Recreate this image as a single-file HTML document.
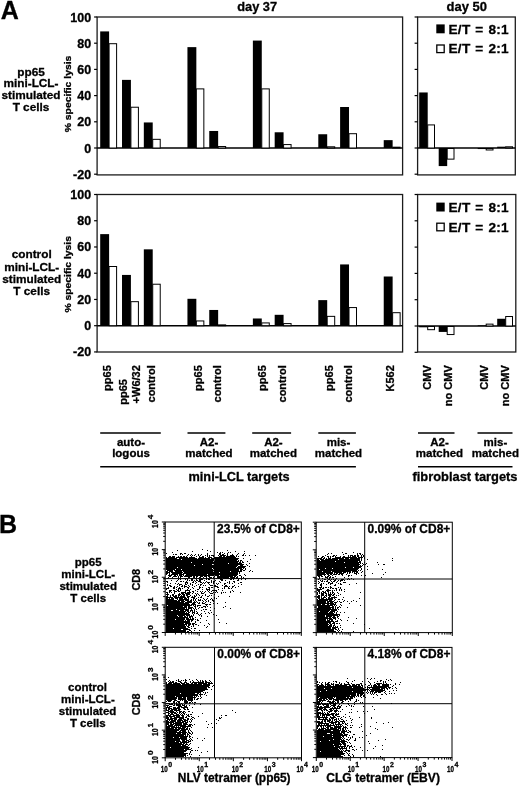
<!DOCTYPE html>
<html><head><meta charset="utf-8"><title>Figure</title>
<style>
html,body{margin:0;padding:0;background:#fff;}
svg{display:block;}
svg text{font-family:"Liberation Sans",sans-serif;font-weight:bold;fill:#000;stroke:#000;stroke-width:0.3px;}
</style></head><body>
<svg width="520" height="787" viewBox="0 0 520 787">
<rect width="520" height="787" fill="#fff"/>
<text x="0.80" y="18.80" font-size="25">A</text>
<text x="237.30" y="11.00" font-size="12.5" textLength="39.8" lengthAdjust="spacingAndGlyphs">day 37</text>
<text x="446.60" y="11.00" font-size="12.5" textLength="40.4" lengthAdjust="spacingAndGlyphs">day 50</text>
<rect x="97.10" y="17.00" width="305.50" height="157.90" fill="none" stroke="#1c1c1c" stroke-width="1.3"/>
<line x1="97.10" y1="148.00" x2="402.60" y2="148.00" stroke="#000" stroke-width="1.4"/>
<line x1="94.10" y1="17.00" x2="97.10" y2="17.00" stroke="#000" stroke-width="1.2"/>
<text x="91.10" y="21.50" font-size="12.5" text-anchor="end">100</text>
<line x1="94.10" y1="43.20" x2="97.10" y2="43.20" stroke="#000" stroke-width="1.2"/>
<text x="91.10" y="47.70" font-size="12.5" text-anchor="end">80</text>
<line x1="94.10" y1="69.40" x2="97.10" y2="69.40" stroke="#000" stroke-width="1.2"/>
<text x="91.10" y="73.90" font-size="12.5" text-anchor="end">60</text>
<line x1="94.10" y1="95.60" x2="97.10" y2="95.60" stroke="#000" stroke-width="1.2"/>
<text x="91.10" y="100.10" font-size="12.5" text-anchor="end">40</text>
<line x1="94.10" y1="121.80" x2="97.10" y2="121.80" stroke="#000" stroke-width="1.2"/>
<text x="91.10" y="126.30" font-size="12.5" text-anchor="end">20</text>
<line x1="94.10" y1="148.00" x2="97.10" y2="148.00" stroke="#000" stroke-width="1.2"/>
<text x="91.10" y="152.50" font-size="12.5" text-anchor="end">0</text>
<line x1="94.10" y1="174.20" x2="97.10" y2="174.20" stroke="#000" stroke-width="1.2"/>
<text x="91.10" y="178.70" font-size="12.5" text-anchor="end">-20</text>
<rect x="100.20" y="31.41" width="8.90" height="116.59" fill="#000"/>
<rect x="109.10" y="43.70" width="7.50" height="104.30" fill="#fff" stroke="#000" stroke-width="1"/>
<rect x="122.01" y="79.88" width="8.90" height="68.12" fill="#000"/>
<rect x="130.91" y="107.23" width="7.50" height="40.77" fill="#fff" stroke="#000" stroke-width="1"/>
<rect x="143.82" y="122.45" width="8.90" height="25.55" fill="#000"/>
<rect x="152.72" y="139.33" width="7.50" height="8.67" fill="#fff" stroke="#000" stroke-width="1"/>
<rect x="187.44" y="47.13" width="8.90" height="100.87" fill="#000"/>
<rect x="196.34" y="88.89" width="7.50" height="59.11" fill="#fff" stroke="#000" stroke-width="1"/>
<rect x="209.25" y="130.97" width="8.90" height="17.03" fill="#000"/>
<rect x="218.15" y="146.53" width="7.50" height="1.47" fill="#fff" stroke="#000" stroke-width="1"/>
<rect x="252.87" y="40.58" width="8.90" height="107.42" fill="#000"/>
<rect x="261.77" y="88.89" width="7.50" height="59.11" fill="#fff" stroke="#000" stroke-width="1"/>
<rect x="274.68" y="132.28" width="8.90" height="15.72" fill="#000"/>
<rect x="283.58" y="144.57" width="7.50" height="3.43" fill="#fff" stroke="#000" stroke-width="1"/>
<rect x="318.30" y="134.25" width="8.90" height="13.75" fill="#000"/>
<rect x="327.20" y="146.80" width="7.50" height="1.20" fill="#fff" stroke="#000" stroke-width="1"/>
<rect x="340.11" y="107.00" width="8.90" height="41.00" fill="#000"/>
<rect x="349.01" y="133.70" width="7.50" height="14.30" fill="#fff" stroke="#000" stroke-width="1"/>
<rect x="383.73" y="140.14" width="8.90" height="7.86" fill="#000"/>
<rect x="392.63" y="147.19" width="7.50" height="0.81" fill="#fff" stroke="#000" stroke-width="1"/>
<rect x="417.60" y="17.00" width="97.70" height="157.90" fill="none" stroke="#1c1c1c" stroke-width="1.3"/>
<line x1="417.60" y1="148.00" x2="515.30" y2="148.00" stroke="#000" stroke-width="1.4"/>
<line x1="414.60" y1="17.00" x2="417.60" y2="17.00" stroke="#000" stroke-width="1.2"/>
<line x1="414.60" y1="43.20" x2="417.60" y2="43.20" stroke="#000" stroke-width="1.2"/>
<line x1="414.60" y1="69.40" x2="417.60" y2="69.40" stroke="#000" stroke-width="1.2"/>
<line x1="414.60" y1="95.60" x2="417.60" y2="95.60" stroke="#000" stroke-width="1.2"/>
<line x1="414.60" y1="121.80" x2="417.60" y2="121.80" stroke="#000" stroke-width="1.2"/>
<line x1="414.60" y1="148.00" x2="417.60" y2="148.00" stroke="#000" stroke-width="1.2"/>
<line x1="414.60" y1="174.20" x2="417.60" y2="174.20" stroke="#000" stroke-width="1.2"/>
<rect x="419.20" y="92.46" width="8.50" height="55.54" fill="#000"/>
<rect x="427.70" y="124.92" width="6.80" height="23.08" fill="#fff" stroke="#000" stroke-width="1"/>
<rect x="438.70" y="148.00" width="8.50" height="18.08" fill="#000"/>
<rect x="447.20" y="148.50" width="6.80" height="10.63" fill="#fff" stroke="#000" stroke-width="1"/>
<rect x="477.70" y="148.00" width="8.50" height="1.05" fill="#000"/>
<rect x="486.20" y="148.50" width="6.80" height="1.47" fill="#fff" stroke="#000" stroke-width="1"/>
<rect x="497.20" y="146.69" width="8.50" height="1.31" fill="#000"/>
<rect x="505.70" y="146.80" width="6.80" height="1.20" fill="#fff" stroke="#000" stroke-width="1"/>
<rect x="97.10" y="194.50" width="305.50" height="157.50" fill="none" stroke="#1c1c1c" stroke-width="1.3"/>
<line x1="97.10" y1="325.70" x2="402.60" y2="325.70" stroke="#000" stroke-width="1.4"/>
<line x1="94.10" y1="194.50" x2="97.10" y2="194.50" stroke="#000" stroke-width="1.2"/>
<text x="91.10" y="199.00" font-size="12.5" text-anchor="end">100</text>
<line x1="94.10" y1="220.74" x2="97.10" y2="220.74" stroke="#000" stroke-width="1.2"/>
<text x="91.10" y="225.24" font-size="12.5" text-anchor="end">80</text>
<line x1="94.10" y1="246.98" x2="97.10" y2="246.98" stroke="#000" stroke-width="1.2"/>
<text x="91.10" y="251.48" font-size="12.5" text-anchor="end">60</text>
<line x1="94.10" y1="273.22" x2="97.10" y2="273.22" stroke="#000" stroke-width="1.2"/>
<text x="91.10" y="277.72" font-size="12.5" text-anchor="end">40</text>
<line x1="94.10" y1="299.46" x2="97.10" y2="299.46" stroke="#000" stroke-width="1.2"/>
<text x="91.10" y="303.96" font-size="12.5" text-anchor="end">20</text>
<line x1="94.10" y1="325.70" x2="97.10" y2="325.70" stroke="#000" stroke-width="1.2"/>
<text x="91.10" y="330.20" font-size="12.5" text-anchor="end">0</text>
<line x1="94.10" y1="351.94" x2="97.10" y2="351.94" stroke="#000" stroke-width="1.2"/>
<text x="91.10" y="356.44" font-size="12.5" text-anchor="end">-20</text>
<rect x="100.20" y="234.12" width="8.90" height="91.58" fill="#000"/>
<rect x="109.10" y="266.50" width="7.50" height="59.20" fill="#fff" stroke="#000" stroke-width="1"/>
<rect x="122.01" y="274.93" width="8.90" height="50.77" fill="#000"/>
<rect x="130.91" y="301.67" width="7.50" height="24.03" fill="#fff" stroke="#000" stroke-width="1"/>
<rect x="143.82" y="249.34" width="8.90" height="76.36" fill="#000"/>
<rect x="152.72" y="284.22" width="7.50" height="41.48" fill="#fff" stroke="#000" stroke-width="1"/>
<rect x="187.44" y="298.80" width="8.90" height="26.90" fill="#000"/>
<rect x="196.34" y="320.95" width="7.50" height="4.75" fill="#fff" stroke="#000" stroke-width="1"/>
<rect x="209.25" y="309.96" width="8.90" height="15.74" fill="#000"/>
<rect x="218.15" y="324.89" width="7.50" height="0.81" fill="#fff" stroke="#000" stroke-width="1"/>
<rect x="252.87" y="318.48" width="8.90" height="7.22" fill="#000"/>
<rect x="261.77" y="322.92" width="7.50" height="2.78" fill="#fff" stroke="#000" stroke-width="1"/>
<rect x="274.68" y="314.81" width="8.90" height="10.89" fill="#000"/>
<rect x="283.58" y="323.58" width="7.50" height="2.12" fill="#fff" stroke="#000" stroke-width="1"/>
<rect x="318.30" y="300.12" width="8.90" height="25.58" fill="#000"/>
<rect x="327.20" y="316.36" width="7.50" height="9.34" fill="#fff" stroke="#000" stroke-width="1"/>
<rect x="340.11" y="264.43" width="8.90" height="61.27" fill="#000"/>
<rect x="349.01" y="307.57" width="7.50" height="18.13" fill="#fff" stroke="#000" stroke-width="1"/>
<rect x="383.73" y="276.50" width="8.90" height="49.20" fill="#000"/>
<rect x="392.63" y="312.69" width="7.50" height="13.01" fill="#fff" stroke="#000" stroke-width="1"/>
<rect x="417.60" y="194.50" width="98.20" height="157.50" fill="none" stroke="#1c1c1c" stroke-width="1.3"/>
<line x1="417.60" y1="326.00" x2="515.80" y2="326.00" stroke="#000" stroke-width="1.4"/>
<line x1="414.60" y1="194.50" x2="417.60" y2="194.50" stroke="#000" stroke-width="1.2"/>
<line x1="414.60" y1="220.80" x2="417.60" y2="220.80" stroke="#000" stroke-width="1.2"/>
<line x1="414.60" y1="247.10" x2="417.60" y2="247.10" stroke="#000" stroke-width="1.2"/>
<line x1="414.60" y1="273.40" x2="417.60" y2="273.40" stroke="#000" stroke-width="1.2"/>
<line x1="414.60" y1="299.70" x2="417.60" y2="299.70" stroke="#000" stroke-width="1.2"/>
<line x1="414.60" y1="326.00" x2="417.60" y2="326.00" stroke="#000" stroke-width="1.2"/>
<line x1="414.60" y1="352.30" x2="417.60" y2="352.30" stroke="#000" stroke-width="1.2"/>
<rect x="419.20" y="326.00" width="8.50" height="1.31" fill="#000"/>
<rect x="427.70" y="326.50" width="6.80" height="3.18" fill="#fff" stroke="#000" stroke-width="1"/>
<rect x="438.70" y="326.00" width="8.50" height="5.92" fill="#000"/>
<rect x="447.20" y="326.50" width="6.80" height="8.05" fill="#fff" stroke="#000" stroke-width="1"/>
<rect x="477.70" y="325.34" width="8.50" height="0.66" fill="#000"/>
<rect x="486.20" y="324.13" width="6.80" height="1.87" fill="#fff" stroke="#000" stroke-width="1"/>
<rect x="497.20" y="318.77" width="8.50" height="7.23" fill="#000"/>
<rect x="505.70" y="316.51" width="6.80" height="9.49" fill="#fff" stroke="#000" stroke-width="1"/>
<rect x="436.30" y="24.40" width="8.40" height="8.90" fill="#000"/>
<text x="448.50" y="33.50" font-size="13.6" word-spacing="0.8" letter-spacing="0.28">E/T = 8:1</text>
<rect x="436.80" y="45.00" width="7.4" height="7.6" fill="#fff" stroke="#000" stroke-width="1.3"/>
<text x="448.50" y="53.30" font-size="13.6" word-spacing="0.8" letter-spacing="0.28">E/T = 2:1</text>
<rect x="436.30" y="202.60" width="8.40" height="8.90" fill="#000"/>
<text x="448.50" y="211.70" font-size="13.6" word-spacing="0.8" letter-spacing="0.28">E/T = 8:1</text>
<rect x="436.80" y="223.20" width="7.4" height="7.6" fill="#fff" stroke="#000" stroke-width="1.3"/>
<text x="448.50" y="231.50" font-size="13.6" word-spacing="0.8" letter-spacing="0.28">E/T = 2:1</text>
<text x="70.80" y="132.30" font-size="9.3" textLength="76.6" lengthAdjust="spacingAndGlyphs" transform="rotate(-90 70.80 132.30)">% specific lysis</text>
<text x="70.80" y="312.60" font-size="9.3" textLength="76.6" lengthAdjust="spacingAndGlyphs" transform="rotate(-90 70.80 312.60)">% specific lysis</text>
<text x="31.00" y="75.60" font-size="11.8" text-anchor="middle">pp65</text>
<text x="31.00" y="87.10" font-size="11.8" text-anchor="middle">mini-LCL-</text>
<text x="31.00" y="98.70" font-size="11.8" text-anchor="middle">stimulated</text>
<text x="31.00" y="110.60" font-size="11.8" text-anchor="middle">T cells</text>
<text x="31.70" y="258.30" font-size="11.8" text-anchor="middle">control</text>
<text x="31.70" y="271.20" font-size="11.8" text-anchor="middle">mini-LCL-</text>
<text x="31.70" y="282.60" font-size="11.8" text-anchor="middle">stimulated</text>
<text x="31.70" y="294.50" font-size="11.8" text-anchor="middle">T cells</text>
<text x="88.20" y="566.30" font-size="11.5" text-anchor="middle">pp65</text>
<text x="88.20" y="578.00" font-size="11.5" text-anchor="middle">mini-LCL-</text>
<text x="88.20" y="590.00" font-size="11.5" text-anchor="middle">stimulated</text>
<text x="88.20" y="602.00" font-size="11.5" text-anchor="middle">T cells</text>
<text x="111.30" y="365.20" font-size="11" text-anchor="end" transform="rotate(-90 111.30 365.20)">pp65</text>
<text x="127.00" y="404.70" font-size="11" transform="rotate(-90 127.00 404.70)">pp65</text>
<text x="140.00" y="365.20" font-size="11" text-anchor="end" transform="rotate(-90 140.00 365.20)">+W6/32</text>
<text x="154.80" y="365.20" font-size="11" text-anchor="end" transform="rotate(-90 154.80 365.20)">control</text>
<text x="201.70" y="365.20" font-size="11" text-anchor="end" transform="rotate(-90 201.70 365.20)">pp65</text>
<text x="221.40" y="365.20" font-size="11" text-anchor="end" transform="rotate(-90 221.40 365.20)">control</text>
<text x="265.70" y="365.20" font-size="11" text-anchor="end" transform="rotate(-90 265.70 365.20)">pp65</text>
<text x="286.50" y="365.20" font-size="11" text-anchor="end" transform="rotate(-90 286.50 365.20)">control</text>
<text x="332.60" y="365.20" font-size="11" text-anchor="end" transform="rotate(-90 332.60 365.20)">pp65</text>
<text x="351.70" y="365.20" font-size="11" text-anchor="end" transform="rotate(-90 351.70 365.20)">control</text>
<text x="394.50" y="365.20" font-size="11" text-anchor="end" transform="rotate(-90 394.50 365.20)">K562</text>
<text x="431.30" y="365.20" font-size="11" text-anchor="end" transform="rotate(-90 431.30 365.20)">CMV</text>
<text x="452.50" y="365.20" font-size="11" text-anchor="end" transform="rotate(-90 452.50 365.20)">no CMV</text>
<text x="488.00" y="365.20" font-size="11" text-anchor="end" transform="rotate(-90 488.00 365.20)">CMV</text>
<text x="509.30" y="365.20" font-size="11" text-anchor="end" transform="rotate(-90 509.30 365.20)">no CMV</text>
<line x1="100.20" y1="433.00" x2="160.80" y2="433.00" stroke="#000" stroke-width="1.6"/>
<text x="131.00" y="446.30" font-size="11.5" text-anchor="middle">auto-</text>
<text x="131.00" y="457.10" font-size="11.5" text-anchor="middle">logous</text>
<line x1="187.50" y1="433.00" x2="225.40" y2="433.00" stroke="#000" stroke-width="1.6"/>
<text x="209.00" y="446.30" font-size="11.5" text-anchor="middle">A2-</text>
<text x="209.00" y="457.10" font-size="11.5" text-anchor="middle">matched</text>
<line x1="252.20" y1="433.00" x2="291.10" y2="433.00" stroke="#000" stroke-width="1.6"/>
<text x="273.40" y="446.30" font-size="11.5" text-anchor="middle">A2-</text>
<text x="273.40" y="457.10" font-size="11.5" text-anchor="middle">matched</text>
<line x1="318.30" y1="433.00" x2="355.90" y2="433.00" stroke="#000" stroke-width="1.6"/>
<text x="338.50" y="446.30" font-size="11.5" text-anchor="middle">mis-</text>
<text x="338.50" y="457.10" font-size="11.5" text-anchor="middle">matched</text>
<line x1="418.00" y1="433.00" x2="454.50" y2="433.00" stroke="#000" stroke-width="1.6"/>
<text x="439.50" y="446.30" font-size="11.5" text-anchor="middle">A2-</text>
<text x="439.50" y="457.10" font-size="11.5" text-anchor="middle">matched</text>
<line x1="477.50" y1="433.00" x2="512.50" y2="433.00" stroke="#000" stroke-width="1.6"/>
<text x="495.40" y="446.30" font-size="11.5" text-anchor="middle">mis-</text>
<text x="495.40" y="457.10" font-size="11.5" text-anchor="middle">matched</text>
<line x1="100.20" y1="466.80" x2="355.90" y2="466.80" stroke="#000" stroke-width="1.6"/>
<line x1="418.00" y1="466.80" x2="512.50" y2="466.80" stroke="#000" stroke-width="1.6"/>
<text x="188.50" y="481.40" font-size="13" textLength="101.0" lengthAdjust="spacingAndGlyphs">mini-LCL targets</text>
<text x="412.50" y="481.30" font-size="13" textLength="105.0" lengthAdjust="spacingAndGlyphs">fibroblast targets</text>
<text x="-0.90" y="532.90" font-size="25">B</text>
<path d="M202 549.5h1m-26 1h1m29 0h1m19 0h1m-36 1h1m17 0h1m24 0h1m8 0h1m-73 1h1m44 0h1m2 0h1m1 0h1m5 0h1m1 0h1m111 0h1m10 0h1m-188 1h1m13 0h2m2 0h2m21 0h1m11 0h2m3 0h1m2 0h1m10 0h1m5 0h1m83 0h1m2 0h1m13 0h2m10 0h1m1 0h2m-188 1h1m1 0h2m3 0h1m1 0h1m5 0h1m2 0h1m3 0h1m2 0h1m2 0h1m5 0h1m11 0h2m1 0h2m3 0h1m4 0h1m4 0h1m5 0h1m83 0h1m15 0h1m13 0h1m2 0h1m1 0h1m-176 1h1m2 0h1m1 0h1m1 0h1m3 0h1m1 0h1m4 0h1m1 0h1m1 0h1m1 0h3m4 0h1m1 0h6m1 0h1m2 0h4m2 0h1m5 0h2m1 0h1m3 0h1m5 0h1m69 0h1m7 0h2m1 0h1m11 0h1m1 0h3m1 0h2m1 0h2m2 0h1m1 0h1m-195 1h2m1 0h3m3 0h1m1 0h2m1 0h2m1 0h1m4 0h1m4 0h1m2 0h1m2 0h2m3 0h1m1 0h1m3 0h1m5 0h3m1 0h2m1 0h9m1 0h1m1 0h1m79 0h1m3 0h2m3 0h2m1 0h1m1 0h2m1 0h1m4 0h1m2 0h2m3 0h1m1 0h1m1 0h4m1 0h2m2 0h1m1 0h1m-198 1h1m1 0h7m1 0h12m1 0h6m4 0h5m1 0h1m2 0h4m2 0h22m85 0h2m1 0h1m3 0h1m1 0h1m4 0h6m1 0h15m1 0h5m1 0h1m-199 1h11m2 0h18m1 0h12m1 0h28m4 0h1m73 0h5m1 0h2m1 0h1m1 0h3m1 0h12m1 0h4m1 0h10m1 0h1m2 0h1m27 0h1m-227 1h15m1 0h32m1 0h23m12 0h1m66 0h2m1 0h4m1 0h13m1 0h21m1 0h1m5 0h1m-202 1h48m1 0h22m1 0h1m1 0h2m75 0h3m1 0h39m1 0h1m30 0h1m-227 1h47m1 0h25m1 0h1m1 0h1m4 0h1m69 0h18m1 0h22m1 0h2m-195 1h25m1 0h46m1 0h2m1 0h2m73 0h27m1 0h16m3 0h1m12 0h1m-212 1h62m1 0h13m7 0h1m67 0h42m1 0h1m1 0h1m3 0h1m-201 1h36m1 0h9m2 0h30m2 0h1m70 0h43m3 0h1m1 0h1m12 0h1m4 0h2m-219 1h28m1 0h43m2 0h3m4 0h1m69 0h42m1 0h1m1 0h1m-197 1h71m1 0h8m3 0h1m67 0h45m5 0h1m-202 1h11m1 0h58m1 0h8m72 0h28m1 0h7m1 0h7m-195 1h46m1 0h29m1 0h1m1 0h1m71 0h8m1 0h6m1 0h26m2 0h1m-196 1h9m1 0h5m1 0h31m1 0h25m1 0h3m2 0h1m71 0h2m1 0h38m3 0h1m5 0h1m14 0h1m-216 1h6m1 0h65m1 0h2m1 0h2m5 0h1m66 0h40m1 0h1m1 0h1m-195 1h2m1 0h4m2 0h7m1 0h30m1 0h16m1 0h11m7 0h1m2 0h1m64 0h5m1 0h8m1 0h19m1 0h6m4 0h1m-197 1h4m1 0h12m1 0h35m1 0h18m1 0h1m77 0h16m1 0h8m1 0h3m1 0h1m1 0h2m1 0h1m1 0h1m1 0h2m3 0h1m23 0h1m-220 1h2m1 0h1m2 0h10m1 0h55m1 0h1m77 0h8m1 0h7m1 0h1m1 0h2m1 0h5m3 0h1m1 0h1m4 0h3m1 0h1m13 0h1m-207 1h1m2 0h1m1 0h7m1 0h5m2 0h21m1 0h30m6 0h1m72 0h9m1 0h2m1 0h2m1 0h4m1 0h2m1 0h2m3 0h1m9 0h1m26 0h1m-216 1h4m2 0h2m1 0h1m1 0h3m1 0h1m1 0h29m1 0h4m1 0h17m2 0h2m4 0h1m71 0h5m2 0h1m3 0h2m2 0h1m9 0h1m5 0h2m1 0h1m9 0h1m3 0h1m-197 1h2m2 0h4m1 0h1m1 0h3m1 0h8m1 0h2m1 0h2m2 0h3m1 0h3m1 0h2m4 0h1m2 0h16m1 0h2m1 0h1m3 0h1m76 0h2m1 0h2m2 0h1m1 0h2m1 0h1m4 0h1m12 0h1m-181 1h1m3 0h1m5 0h1m1 0h1m7 0h2m3 0h2m1 0h1m2 0h2m2 0h1m2 0h1m2 0h3m1 0h1m3 0h12m1 0h5m1 0h2m3 0h1m1 0h1m75 0h1m5 0h3m1 0h2m1 0h2m10 0h1m36 0h1m-215 1h1m16 0h1m1 0h1m4 0h2m2 0h1m2 0h1m2 0h1m2 0h1m1 0h1m1 0h1m1 0h1m5 0h1m1 0h4m1 0h7m1 0h4m1 0h2m1 0h1m79 0h1m2 0h1m4 0h1m1 0h1m6 0h1m11 0h1m2 0h1m-174 1h1m1 0h1m4 0h1m1 0h1m3 0h2m3 0h1m2 0h4m3 0h1m1 0h2m10 0h3m7 0h2m1 0h1m4 0h1m2 0h1m3 0h1m72 0h1m5 0h2m2 0h2m1 0h1m1 0h1m1 0h1m5 0h3m3 0h1m1 0h1m3 0h1m-183 1h1m5 0h1m9 0h1m1 0h1m1 0h2m1 0h1m1 0h2m1 0h2m3 0h1m6 0h1m3 0h1m5 0h2m2 0h1m11 0h2m81 0h1m1 0h1m4 0h1m2 0h1m3 0h2m2 0h1m1 0h3m1 0h1m-179 1h2m8 0h1m3 0h2m1 0h1m2 0h1m6 0h1m1 0h1m2 0h3m5 0h1m4 0h1m1 0h2m4 0h1m9 0h1m3 0h2m83 0h1m2 0h2m1 0h1m1 0h2m3 0h1m1 0h2m2 0h1m2 0h1m-174 1h1m17 0h3m4 0h2m2 0h1m3 0h2m1 0h1m1 0h1m1 0h3m1 0h1m1 0h1m6 0h1m6 0h1m1 0h1m4 0h1m5 0h2m77 0h1m8 0h2m2 0h1m3 0h1m6 0h3m-176 1h1m4 0h1m2 0h1m6 0h1m1 0h1m2 0h1m4 0h1m6 0h1m1 0h1m3 0h1m4 0h1m2 0h1m1 0h1m5 0h2m3 0h1m2 0h1m5 0h1m79 0h1m2 0h1m1 0h1m4 0h1m1 0h3m5 0h1m1 0h1m15 0h1m-190 1h1m9 0h1m1 0h3m3 0h2m3 0h1m1 0h1m5 0h1m1 0h2m7 0h1m7 0h1m6 0h1m16 0h1m78 0h2m4 0h1m3 0h1m4 0h1m4 0h2m7 0h1m-183 1h1m1 0h2m8 0h1m2 0h1m1 0h1m3 0h1m3 0h1m3 0h1m3 0h1m2 0h1m1 0h1m4 0h3m1 0h2m6 0h1m2 0h2m7 0h1m85 0h2m12 0h2m-166 1h2m2 0h1m2 0h1m3 0h2m1 0h3m2 0h1m4 0h1m4 0h1m14 0h4m6 0h4m1 0h1m2 0h2m4 0h1m82 0h1m8 0h1m-163 1h1m4 0h2m1 0h1m2 0h1m4 0h1m2 0h2m3 0h1m6 0h2m1 0h1m5 0h2m1 0h2m4 0h2m5 0h1m3 0h1m3 0h1m2 0h1m83 0h3m1 0h1m1 0h2m1 0h1m1 0h2m6 0h1m1 0h1m-175 1h3m4 0h2m3 0h3m1 0h1m5 0h1m4 0h1m5 0h1m6 0h1m2 0h1m12 0h1m1 0h1m3 0h2m1 0h1m85 0h1m2 0h1m1 0h2m6 0h1m1 0h2m1 0h2m3 0h1m-175 1h1m9 0h1m1 0h1m1 0h1m6 0h1m2 0h1m6 0h2m3 0h1m3 0h4m8 0h1m98 0h5m5 0h2m7 0h1m2 0h1m1 0h1m2 0h1m-176 1h3m1 0h2m2 0h2m1 0h1m4 0h5m5 0h1m11 0h1m1 0h1m2 0h5m5 0h1m9 0h1m84 0h3m6 0h5m1 0h1m1 0h1m1 0h1m2 0h1m1 0h1m-173 1h2m3 0h3m1 0h2m5 0h1m3 0h1m2 0h2m3 0h1m2 0h1m1 0h1m2 0h1m2 0h1m2 0h1m4 0h1m13 0h1m2 0h1m84 0h2m2 0h2m1 0h1m1 0h2m3 0h1m11 0h1m-179 1h2m1 0h1m1 0h1m2 0h1m6 0h5m1 0h4m2 0h1m7 0h1m2 0h1m4 0h1m3 0h1m1 0h1m1 0h1m3 0h1m1 0h1m1 0h1m4 0h1m9 0h1m76 0h1m1 0h1m1 0h1m1 0h3m2 0h1m1 0h1m1 0h2m3 0h1m22 0h1m-194 1h1m6 0h1m4 0h1m1 0h3m1 0h5m2 0h1m2 0h1m1 0h1m3 0h3m6 0h3m8 0h1m95 0h1m1 0h1m1 0h3m1 0h2m1 0h1m1 0h1m1 0h1m1 0h1m3 0h1m-173 1h3m3 0h2m4 0h3m1 0h3m1 0h4m6 0h1m1 0h1m6 0h1m8 0h1m102 0h1m3 0h3m2 0h1m1 0h4m1 0h2m5 0h1m-174 1h1m2 0h1m1 0h2m1 0h2m1 0h2m1 0h1m1 0h2m1 0h2m2 0h1m3 0h1m1 0h1m2 0h1m2 0h1m2 0h1m3 0h1m1 0h1m106 0h2m1 0h3m1 0h2m1 0h3m1 0h2m2 0h1m1 0h1m-173 1h2m2 0h1m2 0h4m1 0h1m1 0h5m2 0h3m2 0h1m1 0h2m5 0h1m5 0h2m9 0h1m10 0h1m87 0h3m1 0h1m2 0h1m1 0h1m2 0h2m3 0h1m-169 1h7m1 0h12m1 0h2m2 0h4m3 0h1m1 0h2m12 0h1m102 0h3m1 0h1m1 0h3m2 0h2m1 0h6m6 0h1m-178 1h2m1 0h1m1 0h3m1 0h3m1 0h4m1 0h3m1 0h1m4 0h2m1 0h1m6 0h1m3 0h1m3 0h1m2 0h1m1 0h1m101 0h2m1 0h3m2 0h1m1 0h5m1 0h1m24 0h1m-194 1h8m3 0h1m1 0h10m2 0h1m1 0h1m1 0h1m2 0h1m1 0h1m3 0h1m1 0h1m3 0h1m1 0h1m104 0h1m1 0h14m2 0h1m2 0h2m2 0h1m-177 1h11m1 0h6m1 0h4m1 0h2m1 0h1m1 0h1m2 0h3m1 0h1m2 0h1m2 0h1m3 0h2m103 0h11m1 0h3m2 0h1m9 0h1m8 0h1m-188 1h14m1 0h4m2 0h5m2 0h1m1 0h1m6 0h1m2 0h1m1 0h1m4 0h1m103 0h9m1 0h7m3 0h1m1 0h1m3 0h1m3 0h1m3 0h1m4 0h1m-191 1h18m1 0h7m1 0h3m1 0h1m1 0h1m2 0h1m2 0h1m4 0h1m14 0h1m91 0h9m1 0h2m1 0h3m1 0h3m3 0h2m-176 1h23m3 0h3m3 0h2m2 0h3m8 0h1m3 0h1m99 0h17m1 0h1m13 0h1m-184 1h24m1 0h5m9 0h3m1 0h2m106 0h4m1 0h3m2 0h2m1 0h6m4 0h1m-175 1h1m1 0h24m1 0h1m1 0h1m1 0h4m5 0h1m110 0h16m1 0h1m1 0h1m4 0h1m18 0h1m-195 1h17m1 0h3m1 0h2m4 0h2m1 0h1m5 0h3m1 0h1m17 0h1m92 0h12m2 0h2m1 0h1m3 0h1m-174 1h21m1 0h5m2 0h1m3 0h1m1 0h2m2 0h1m4 0h1m12 0h1m94 0h16m1 0h1m1 0h2m1 0h1m6 0h1m-182 1h19m1 0h1m1 0h4m1 0h1m1 0h1m2 0h1m15 0h1m15 0h1m86 0h14m1 0h2m1 0h1m1 0h1m-172 1h10m1 0h12m2 0h1m2 0h1m1 0h1m6 0h1m1 0h2m110 0h20m1 0h1m-173 1h5m2 0h6m1 0h4m1 0h4m1 0h3m1 0h1m6 0h1m8 0h1m106 0h13m1 0h6m-171 1h20m1 0h2m1 0h1m1 0h1m1 0h1m1 0h1m7 0h1m112 0h2m1 0h9m1 0h5m2 0h1m-172 1h19m1 0h1m1 0h2m2 0h3m2 0h1m10 0h1m2 0h1m105 0h11m1 0h4m1 0h1m1 0h1m3 0h1m3 0h1m-179 1h23m3 0h1m1 0h1m1 0h2m3 0h1m3 0h1m3 0h1m107 0h17m2 0h1m-171 1h24m3 0h1m4 0h1m1 0h1m12 0h1m103 0h23m-174 1h11m1 0h7m1 0h4m1 0h1m1 0h1m5 0h1m1 0h1m14 0h1m100 0h8m1 0h12m1 0h1m-174 1h12m1 0h4m1 0h2m1 0h1m1 0h4m8 0h1m5 0h1m109 0h8m1 0h6m1 0h2m2 0h2m-173 1h22m1 0h2m1 0h1m2 0h1m121 0h11m1 0h2m1 0h4m1 0h1m10 0h1m-183 1h19m1 0h3m1 0h1m1 0h2m6 0h1m116 0h15m1 0h3m2 0h1m17 0h1m-191 1h9m1 0h9m1 0h8m1 0h1m1 0h1m20 0h1m98 0h9m1 0h1m1 0h4m2 0h1m4 0h1m-175 1h18m1 0h1m1 0h3m1 0h2m4 0h2m7 0h1m110 0h9m1 0h3m1 0h2m4 0h1m3 0h1m5 0h1m-182 1h24m1 0h1m3 0h1m121 0h17m1 0h3m-172 1h24m5 0h1m4 0h1m18 0h1m97 0h14m2 0h2m-169 1h18m1 0h6m1 0h3m13 0h1m17 0h1m90 0h11m1 0h2m1 0h3m1 0h2m1 0h1m13 0h1m-188 1h21m1 0h3m1 0h2m1 0h2m12 0h1m107 0h12m1 0h2m2 0h1m29 0h1m-199 1h19m1 0h1m1 0h2m3 0h1m4 0h1m5 0h1m112 0h11m1 0h3m1 0h2m5 0h1m-175 1h20m1 0h2m2 0h1m1 0h1m13 0h1m109 0h15m1 0h1m1 0h1m1 0h1m-172 1h20m2 0h2m16 0h1m110 0h14m1 0h6m2 0h1m-175 1h7m1 0h14m3 0h1m2 0h2m121 0h14m1 0h4m2 0h1m30 0h1m-204 1h15m2 0h7m127 0h17m1 0h2m1 0h1m3 0h1m-177 1h20m3 0h2m3 0h1m4 0h1m117 0h17m3 0h1m1 0h1m-174 1h20m1 0h2m2 0h1m125 0h19m2 0h1m2 0h1m11 0h1m-186 46h1m178 1h1m19 0h1m3 0h1m2 0h1m-209 1h1m11 0h1m6 0h1m3 0h1m6 0h1m173 0h1m15 0h1m3 0h1m-222 1h1m6 0h1m1 0h1m2 0h1m1 0h1m1 0h2m5 0h1m4 0h1m2 0h1m1 0h1m2 0h1m3 0h1m144 0h1m25 0h2m6 0h1m2 0h1m-224 1h1m1 0h1m1 0h2m4 0h3m4 0h1m4 0h1m2 0h1m4 0h1m1 0h1m1 0h2m1 0h2m3 0h1m106 0h1m15 0h1m1 0h2m9 0h1m5 0h1m9 0h1m5 0h1m8 0h1m2 0h1m2 0h1m1 0h1m-220 1h1m2 0h5m1 0h2m3 0h2m2 0h3m3 0h1m1 0h12m1 0h5m1 0h1m105 0h1m1 0h1m2 0h1m2 0h1m2 0h2m6 0h1m2 0h1m7 0h2m20 0h1m4 0h1m8 0h1m1 0h1m14 0h1m-235 1h1m1 0h4m1 0h7m1 0h4m1 0h3m2 0h2m1 0h3m1 0h9m1 0h5m108 0h1m3 0h1m1 0h2m2 0h1m1 0h1m5 0h1m1 0h1m2 0h1m3 0h1m2 0h1m8 0h2m8 0h1m5 0h6m1 0h1m2 0h1m8 0h1m-230 1h15m1 0h20m1 0h7m4 0h1m102 0h2m2 0h2m2 0h5m1 0h3m1 0h4m1 0h2m2 0h6m2 0h3m1 0h4m1 0h1m3 0h1m4 0h1m3 0h2m1 0h3m2 0h7m1 0h1m4 0h1m3 0h1m-234 1h44m3 0h1m103 0h1m1 0h5m1 0h1m1 0h4m2 0h1m1 0h12m2 0h2m1 0h5m1 0h2m1 0h2m5 0h2m1 0h1m1 0h4m1 0h2m2 0h7m4 0h1m-228 1h43m3 0h1m104 0h44m1 0h1m4 0h1m3 0h1m1 0h16m3 0h1m-227 1h41m1 0h2m107 0h35m1 0h10m2 0h1m1 0h20m1 0h3m4 0h1m-230 1h41m110 0h7m1 0h6m1 0h32m3 0h1m1 0h1m2 0h8m1 0h4m1 0h2m1 0h1m2 0h1m3 0h1m-231 1h42m3 0h1m105 0h52m1 0h13m1 0h1m2 0h1m-222 1h39m112 0h9m1 0h39m1 0h1m1 0h1m1 0h14m8 0h1m2 0h1m-231 1h37m114 0h3m1 0h31m1 0h10m4 0h1m2 0h4m1 0h8m2 0h1m3 0h1m-224 1h35m2 0h1m1 0h1m1 0h1m109 0h47m2 0h1m1 0h1m1 0h1m1 0h1m1 0h3m1 0h3m3 0h1m-219 1h14m1 0h14m2 0h2m1 0h1m4 0h1m111 0h39m1 0h7m3 0h1m2 0h1m1 0h1m1 0h1m10 0h1m3 0h1m1 0h1m2 0h1m-229 1h32m1 0h4m1 0h1m112 0h39m1 0h2m1 0h3m1 0h1m6 0h1m1 0h1m2 0h1m4 0h2m3 0h1m-221 1h32m2 0h1m5 0h1m110 0h33m1 0h5m1 0h2m1 0h2m1 0h2m12 0h1m-212 1h9m1 0h17m1 0h1m1 0h1m1 0h1m1 0h1m116 0h38m1 0h1m1 0h1m1 0h1m2 0h2m-199 1h11m1 0h4m1 0h3m1 0h9m5 0h1m115 0h2m1 0h13m1 0h1m1 0h10m1 0h2m1 0h3m1 0h1m6 0h1m3 0h1m7 0h1m-208 1h11m1 0h8m1 0h6m1 0h1m2 0h2m1 0h1m116 0h1m1 0h8m1 0h6m2 0h17m27 0h1m-215 1h10m2 0h8m1 0h6m1 0h1m1 0h2m119 0h5m1 0h2m1 0h2m1 0h3m1 0h15m1 0h2m5 0h1m-190 1h5m2 0h3m3 0h1m1 0h1m1 0h3m1 0h5m124 0h1m1 0h7m2 0h1m4 0h1m1 0h4m1 0h3m2 0h1m4 0h1m5 0h1m1 0h1m-193 1h1m1 0h3m2 0h2m2 0h3m4 0h4m3 0h1m125 0h4m1 0h1m4 0h4m1 0h3m2 0h2m3 0h2m4 0h1m6 0h2m-184 1h2m1 0h1m1 0h2m4 0h4m1 0h2m1 0h1m1 0h2m121 0h3m1 0h1m7 0h5m1 0h1m1 0h2m2 0h2m11 0h1m5 0h1m1 0h1m-197 1h4m1 0h2m1 0h1m1 0h1m2 0h1m1 0h1m3 0h2m2 0h1m127 0h3m1 0h2m1 0h2m1 0h1m1 0h8m6 0h1m3 0h2m42 0h1m-223 1h4m1 0h1m1 0h5m1 0h1m1 0h1m9 0h1m5 0h1m116 0h4m1 0h7m1 0h1m2 0h3m3 0h1m8 0h1m5 0h1m-189 1h3m4 0h2m1 0h5m1 0h3m1 0h1m2 0h1m128 0h1m4 0h1m2 0h3m2 0h5m2 0h1m2 0h1m7 0h1m1 0h1m-185 1h1m1 0h3m6 0h4m2 0h3m130 0h2m1 0h2m2 0h5m1 0h1m2 0h2m2 0h4m5 0h1m4 0h1m1 0h1m9 0h1m8 0h1m-207 1h4m3 0h3m1 0h3m1 0h7m4 0h1m124 0h13m2 0h1m1 0h2m1 0h1m1 0h2m-175 1h1m1 0h4m1 0h7m3 0h2m2 0h1m129 0h1m1 0h4m1 0h2m4 0h10m-174 1h1m1 0h2m1 0h6m1 0h3m3 0h2m1 0h2m128 0h5m1 0h4m2 0h3m1 0h1m2 0h1m5 0h1m8 0h1m22 0h1m-209 1h3m1 0h3m1 0h6m52 0h1m84 0h2m2 0h2m1 0h1m1 0h2m2 0h3m1 0h4m-170 1h6m2 0h1m2 0h3m1 0h2m3 0h2m127 0h1m4 0h1m5 0h4m2 0h3m1 0h1m1 0h1m16 0h1m5 0h1m3 0h1m-202 1h3m1 0h6m1 0h1m1 0h2m1 0h2m1 0h1m6 0h1m42 0h1m81 0h4m1 0h1m1 0h1m2 0h1m1 0h1m5 0h1m13 0h1m1 0h1m-184 1h2m1 0h2m1 0h3m2 0h1m1 0h1m1 0h2m17 0h1m114 0h7m1 0h1m1 0h2m2 0h4m1 0h1m1 0h1m25 0h1m-197 1h1m1 0h4m2 0h3m1 0h1m1 0h1m1 0h1m1 0h1m1 0h1m1 0h2m125 0h2m1 0h1m1 0h12m1 0h4m6 0h1m-180 1h5m2 0h7m1 0h3m3 0h2m32 0h1m3 0h2m90 0h2m1 0h1m1 0h3m1 0h4m2 0h2m1 0h2m-171 1h2m1 0h6m1 0h4m2 0h2m2 0h1m1 0h2m1 0h1m6 0h1m118 0h3m2 0h1m1 0h1m1 0h1m3 0h1m2 0h2m2 0h3m3 0h1m5 0h1m-184 1h3m1 0h2m2 0h10m1 0h2m5 0h2m25 0h1m1 0h1m95 0h11m2 0h6m5 0h1m3 0h1m13 0h1m11 0h1m-206 1h3m1 0h7m2 0h5m3 0h2m2 0h1m2 0h1m24 0h2m97 0h2m3 0h1m1 0h2m2 0h1m1 0h3m2 0h1m1 0h1m1 0h1m9 0h1m20 0h1m-205 1h6m1 0h3m1 0h4m1 0h3m1 0h2m1 0h1m1 0h1m23 0h1m101 0h10m1 0h2m1 0h1m1 0h3m1 0h1m2 0h2m9 0h1m-187 1h2m1 0h1m1 0h5m1 0h6m1 0h4m3 0h1m26 0h1m103 0h1m1 0h2m1 0h4m1 0h1m1 0h1m1 0h1m2 0h1m3 0h1m2 0h1m4 0h1m-186 1h3m1 0h6m1 0h4m1 0h4m1 0h1m1 0h1m1 0h1m14 0h1m7 0h1m102 0h3m1 0h2m1 0h2m1 0h3m1 0h2m2 0h4m1 0h5m-179 1h8m1 0h9m1 0h3m2 0h1m126 0h6m2 0h1m3 0h8m1 0h2m2 0h1m1 0h1m6 0h1m24 0h1m11 0h1m-223 1h3m1 0h2m1 0h9m1 0h4m24 0h1m4 0h1m101 0h11m2 0h3m1 0h1m2 0h2m2 0h2m1 0h1m1 0h1m35 0h1m-218 1h3m1 0h4m1 0h7m1 0h5m1 0h3m2 0h1m13 0h1m109 0h2m1 0h1m2 0h1m1 0h3m1 0h1m2 0h1m1 0h7m3 0h2m14 0h1m-196 1h1m1 0h5m1 0h12m2 0h3m1 0h1m124 0h18m1 0h1m1 0h1m1 0h1m1 0h1m4 0h1m2 0h1m1 0h1m-187 1h9m1 0h1m1 0h1m1 0h11m126 0h2m1 0h2m1 0h1m1 0h1m1 0h4m3 0h8m1 0h1m1 0h1m15 0h1m8 0h1m-205 1h4m1 0h10m1 0h4m1 0h1m3 0h1m15 0h1m4 0h1m104 0h1m3 0h1m1 0h1m2 0h3m1 0h3m1 0h7m2 0h4m3 0h2m7 0h1m32 0h1m-227 1h8m1 0h2m1 0h7m1 0h2m1 0h1m127 0h1m1 0h1m1 0h5m1 0h2m1 0h7m1 0h3m1 0h2m1 0h1m1 0h1m27 0h1m-210 1h14m1 0h7m1 0h1m128 0h6m1 0h14m1 0h1m1 0h2m1 0h1m31 0h1m-212 1h13m1 0h6m2 0h1m1 0h1m126 0h14m2 0h8m1 0h3m1 0h1m1 0h1m-183 1h11m2 0h2m1 0h4m2 0h1m2 0h1m125 0h23m1 0h6m2 0h2m11 0h1m-197 1h21m1 0h2m2 0h1m124 0h23m1 0h4m2 0h2m1 0h1m-185 1h10m1 0h4m1 0h4m1 0h1m1 0h2m1 0h1m124 0h10m3 0h12m1 0h2m25 0h1m-205 1h20m1 0h2m2 0h1m125 0h15m1 0h10m1 0h4m5 0h2m-189 1h18m1 0h1m1 0h1m1 0h1m127 0h30m2 0h1m16 0h1m-201 1h22m1 0h2m126 0h6m1 0h8m1 0h8m1 0h2m2 0h1m5 0h1m-187 1h7m1 0h5m1 0h7m2 0h1m2 0h1m124 0h25m1 0h1m4 0h1m1 0h1m1 0h1m6 0h1m2 0h1m-197 1h21m3 0h1m6 0h1m6 0h1m112 0h24m1 0h1m1 0h1m5 0h1m4 0h1m-190 1h14m1 0h6m2 0h1m1 0h1m125 0h16m1 0h8m1 0h1m2 0h2m1 0h1m5 0h1m29 0h1m-220 1h14m2 0h3m1 0h3m1 0h1m1 0h1m9 0h1m114 0h12m1 0h10m1 0h4m3 0h1m5 0h2m22 0h1m-213 1h9m1 0h5m1 0h5m1 0h3m126 0h3m1 0h26m21 0h1m-203 1h13m1 0h9m128 0h23m1 0h4m2 0h1m1 0h1m-184 1h16m1 0h2m1 0h1m3 0h1m126 0h24m1 0h4m4 0h1m18 0h1m-204 1h18m1 0h3m1 0h1m127 0h16m1 0h8m1 0h3m-180 1h15m1 0h4m2 0h1m128 0h22m1 0h1m3 0h2m1 0h2m2 0h1m30 0h1m-217 1h22m129 0h17m1 0h11m1 0h1m1 0h3m2 0h1m20 0h1m-210 1h4m1 0h19m8 0h1m118 0h23m1 0h2m1 0h1m1 0h1m2 0h1m2 0h1m7 0h1m-195 1h23m2 0h1m125 0h21m1 0h8m2 0h1m23 0h1m-208 1h18m1 0h6m126 0h22m1 0h1m1 0h1m3 0h1m5 0h2m2 0h1m25 0h1m-217 1h21m4 0h2m2 0h1m1 0h1m119 0h23m1 0h1m1 0h1m1 0h5m4 0h1m7 0h1m4 0h1m-202 1h20m4 0h1m16 0h1m109 0h3m1 0h22m1 0h2m2 0h2m-184 1h18m6 0h1m10 0h1m115 0h26m3 0h1m-181 1h22m1 0h1m127 0h28m2 0h1m1 0h1m-184 1h20m3 0h1m1 0h1m125 0h27m4 0h1m3 0h1m-187 1h20m1 0h1m11 0h1m117 0h24m3 0h1m3 0h2m3 0h1m-188 1h18m1 0h1m4 0h1m126 0h26m7 0h1m2 0h1m26 0h1" stroke="#000" stroke-width="1" fill="none" shape-rendering="crispEdges"/>
<rect x="165.20" y="522.00" width="136.10" height="110.50" fill="none" stroke="#000" stroke-width="1"/>
<line x1="214.20" y1="522.00" x2="214.20" y2="632.50" stroke="#000" stroke-width="1"/>
<line x1="165.20" y1="578.60" x2="301.30" y2="578.60" stroke="#000" stroke-width="1"/>
<line x1="165.20" y1="632.50" x2="165.20" y2="635.90" stroke="#000" stroke-width="1"/>
<line x1="161.80" y1="632.50" x2="165.20" y2="632.50" stroke="#000" stroke-width="1"/>
<line x1="175.44" y1="632.50" x2="175.44" y2="634.50" stroke="#000" stroke-width="1"/>
<line x1="163.20" y1="624.18" x2="165.20" y2="624.18" stroke="#000" stroke-width="1"/>
<line x1="181.43" y1="632.50" x2="181.43" y2="634.50" stroke="#000" stroke-width="1"/>
<line x1="163.20" y1="619.32" x2="165.20" y2="619.32" stroke="#000" stroke-width="1"/>
<line x1="185.69" y1="632.50" x2="185.69" y2="634.50" stroke="#000" stroke-width="1"/>
<line x1="163.20" y1="615.87" x2="165.20" y2="615.87" stroke="#000" stroke-width="1"/>
<line x1="188.98" y1="632.50" x2="188.98" y2="634.50" stroke="#000" stroke-width="1"/>
<line x1="163.20" y1="613.19" x2="165.20" y2="613.19" stroke="#000" stroke-width="1"/>
<line x1="191.68" y1="632.50" x2="191.68" y2="634.50" stroke="#000" stroke-width="1"/>
<line x1="163.20" y1="611.00" x2="165.20" y2="611.00" stroke="#000" stroke-width="1"/>
<line x1="193.95" y1="632.50" x2="193.95" y2="634.50" stroke="#000" stroke-width="1"/>
<line x1="163.20" y1="609.15" x2="165.20" y2="609.15" stroke="#000" stroke-width="1"/>
<line x1="195.93" y1="632.50" x2="195.93" y2="634.50" stroke="#000" stroke-width="1"/>
<line x1="163.20" y1="607.55" x2="165.20" y2="607.55" stroke="#000" stroke-width="1"/>
<line x1="197.67" y1="632.50" x2="197.67" y2="634.50" stroke="#000" stroke-width="1"/>
<line x1="163.20" y1="606.14" x2="165.20" y2="606.14" stroke="#000" stroke-width="1"/>
<line x1="199.22" y1="632.50" x2="199.22" y2="635.90" stroke="#000" stroke-width="1"/>
<line x1="161.80" y1="604.88" x2="165.20" y2="604.88" stroke="#000" stroke-width="1"/>
<line x1="209.47" y1="632.50" x2="209.47" y2="634.50" stroke="#000" stroke-width="1"/>
<line x1="163.20" y1="596.56" x2="165.20" y2="596.56" stroke="#000" stroke-width="1"/>
<line x1="215.46" y1="632.50" x2="215.46" y2="634.50" stroke="#000" stroke-width="1"/>
<line x1="163.20" y1="591.69" x2="165.20" y2="591.69" stroke="#000" stroke-width="1"/>
<line x1="219.71" y1="632.50" x2="219.71" y2="634.50" stroke="#000" stroke-width="1"/>
<line x1="163.20" y1="588.24" x2="165.20" y2="588.24" stroke="#000" stroke-width="1"/>
<line x1="223.01" y1="632.50" x2="223.01" y2="634.50" stroke="#000" stroke-width="1"/>
<line x1="163.20" y1="585.57" x2="165.20" y2="585.57" stroke="#000" stroke-width="1"/>
<line x1="225.70" y1="632.50" x2="225.70" y2="634.50" stroke="#000" stroke-width="1"/>
<line x1="163.20" y1="583.38" x2="165.20" y2="583.38" stroke="#000" stroke-width="1"/>
<line x1="227.98" y1="632.50" x2="227.98" y2="634.50" stroke="#000" stroke-width="1"/>
<line x1="163.20" y1="581.53" x2="165.20" y2="581.53" stroke="#000" stroke-width="1"/>
<line x1="229.95" y1="632.50" x2="229.95" y2="634.50" stroke="#000" stroke-width="1"/>
<line x1="163.20" y1="579.93" x2="165.20" y2="579.93" stroke="#000" stroke-width="1"/>
<line x1="231.69" y1="632.50" x2="231.69" y2="634.50" stroke="#000" stroke-width="1"/>
<line x1="163.20" y1="578.51" x2="165.20" y2="578.51" stroke="#000" stroke-width="1"/>
<line x1="233.25" y1="632.50" x2="233.25" y2="635.90" stroke="#000" stroke-width="1"/>
<line x1="161.80" y1="577.25" x2="165.20" y2="577.25" stroke="#000" stroke-width="1"/>
<line x1="243.49" y1="632.50" x2="243.49" y2="634.50" stroke="#000" stroke-width="1"/>
<line x1="163.20" y1="568.93" x2="165.20" y2="568.93" stroke="#000" stroke-width="1"/>
<line x1="249.48" y1="632.50" x2="249.48" y2="634.50" stroke="#000" stroke-width="1"/>
<line x1="163.20" y1="564.07" x2="165.20" y2="564.07" stroke="#000" stroke-width="1"/>
<line x1="253.74" y1="632.50" x2="253.74" y2="634.50" stroke="#000" stroke-width="1"/>
<line x1="163.20" y1="560.62" x2="165.20" y2="560.62" stroke="#000" stroke-width="1"/>
<line x1="257.03" y1="632.50" x2="257.03" y2="634.50" stroke="#000" stroke-width="1"/>
<line x1="163.20" y1="557.94" x2="165.20" y2="557.94" stroke="#000" stroke-width="1"/>
<line x1="259.73" y1="632.50" x2="259.73" y2="634.50" stroke="#000" stroke-width="1"/>
<line x1="163.20" y1="555.75" x2="165.20" y2="555.75" stroke="#000" stroke-width="1"/>
<line x1="262.00" y1="632.50" x2="262.00" y2="634.50" stroke="#000" stroke-width="1"/>
<line x1="163.20" y1="553.90" x2="165.20" y2="553.90" stroke="#000" stroke-width="1"/>
<line x1="263.98" y1="632.50" x2="263.98" y2="634.50" stroke="#000" stroke-width="1"/>
<line x1="163.20" y1="552.30" x2="165.20" y2="552.30" stroke="#000" stroke-width="1"/>
<line x1="265.72" y1="632.50" x2="265.72" y2="634.50" stroke="#000" stroke-width="1"/>
<line x1="163.20" y1="550.89" x2="165.20" y2="550.89" stroke="#000" stroke-width="1"/>
<line x1="267.27" y1="632.50" x2="267.27" y2="635.90" stroke="#000" stroke-width="1"/>
<line x1="161.80" y1="549.62" x2="165.20" y2="549.62" stroke="#000" stroke-width="1"/>
<line x1="277.52" y1="632.50" x2="277.52" y2="634.50" stroke="#000" stroke-width="1"/>
<line x1="163.20" y1="541.31" x2="165.20" y2="541.31" stroke="#000" stroke-width="1"/>
<line x1="283.51" y1="632.50" x2="283.51" y2="634.50" stroke="#000" stroke-width="1"/>
<line x1="163.20" y1="536.44" x2="165.20" y2="536.44" stroke="#000" stroke-width="1"/>
<line x1="287.76" y1="632.50" x2="287.76" y2="634.50" stroke="#000" stroke-width="1"/>
<line x1="163.20" y1="532.99" x2="165.20" y2="532.99" stroke="#000" stroke-width="1"/>
<line x1="291.06" y1="632.50" x2="291.06" y2="634.50" stroke="#000" stroke-width="1"/>
<line x1="163.20" y1="530.32" x2="165.20" y2="530.32" stroke="#000" stroke-width="1"/>
<line x1="293.75" y1="632.50" x2="293.75" y2="634.50" stroke="#000" stroke-width="1"/>
<line x1="163.20" y1="528.13" x2="165.20" y2="528.13" stroke="#000" stroke-width="1"/>
<line x1="296.03" y1="632.50" x2="296.03" y2="634.50" stroke="#000" stroke-width="1"/>
<line x1="163.20" y1="526.28" x2="165.20" y2="526.28" stroke="#000" stroke-width="1"/>
<line x1="298.00" y1="632.50" x2="298.00" y2="634.50" stroke="#000" stroke-width="1"/>
<line x1="163.20" y1="524.68" x2="165.20" y2="524.68" stroke="#000" stroke-width="1"/>
<line x1="299.74" y1="632.50" x2="299.74" y2="634.50" stroke="#000" stroke-width="1"/>
<line x1="163.20" y1="523.26" x2="165.20" y2="523.26" stroke="#000" stroke-width="1"/>
<line x1="301.30" y1="632.50" x2="301.30" y2="635.90" stroke="#000" stroke-width="1"/>
<line x1="161.80" y1="522.00" x2="165.20" y2="522.00" stroke="#000" stroke-width="1"/>
<text x="217.00" y="533.00" font-size="12" textLength="82.8" lengthAdjust="spacingAndGlyphs" stroke-width="0.15">23.5% of CD8+</text>
<text x="158.40" y="638.40" font-size="8.6" textLength="7.6" lengthAdjust="spacingAndGlyphs" transform="rotate(-90 158.40 638.40)" font-weight="normal" stroke-width="0.3">10</text>
<text x="152.80" y="629.70" font-size="7.8" textLength="4.6" lengthAdjust="spacingAndGlyphs" transform="rotate(-90 152.80 629.70)" font-weight="normal" stroke-width="0.25">0</text>
<text x="158.40" y="610.77" font-size="8.6" textLength="7.6" lengthAdjust="spacingAndGlyphs" transform="rotate(-90 158.40 610.77)" font-weight="normal" stroke-width="0.3">10</text>
<text x="152.80" y="602.08" font-size="7.8" textLength="4.6" lengthAdjust="spacingAndGlyphs" transform="rotate(-90 152.80 602.08)" font-weight="normal" stroke-width="0.25">1</text>
<text x="158.40" y="583.15" font-size="8.6" textLength="7.6" lengthAdjust="spacingAndGlyphs" transform="rotate(-90 158.40 583.15)" font-weight="normal" stroke-width="0.3">10</text>
<text x="152.80" y="574.45" font-size="7.8" textLength="4.6" lengthAdjust="spacingAndGlyphs" transform="rotate(-90 152.80 574.45)" font-weight="normal" stroke-width="0.25">2</text>
<text x="158.40" y="555.52" font-size="8.6" textLength="7.6" lengthAdjust="spacingAndGlyphs" transform="rotate(-90 158.40 555.52)" font-weight="normal" stroke-width="0.3">10</text>
<text x="152.80" y="546.83" font-size="7.8" textLength="4.6" lengthAdjust="spacingAndGlyphs" transform="rotate(-90 152.80 546.83)" font-weight="normal" stroke-width="0.25">3</text>
<text x="158.40" y="527.90" font-size="8.6" textLength="7.6" lengthAdjust="spacingAndGlyphs" transform="rotate(-90 158.40 527.90)" font-weight="normal" stroke-width="0.3">10</text>
<text x="152.80" y="519.20" font-size="7.8" textLength="4.6" lengthAdjust="spacingAndGlyphs" transform="rotate(-90 152.80 519.20)" font-weight="normal" stroke-width="0.25">4</text>
<rect x="316.20" y="522.20" width="136.10" height="110.40" fill="none" stroke="#000" stroke-width="1"/>
<line x1="364.70" y1="522.20" x2="364.70" y2="632.60" stroke="#000" stroke-width="1"/>
<line x1="316.20" y1="579.00" x2="452.30" y2="579.00" stroke="#000" stroke-width="1"/>
<line x1="316.20" y1="632.60" x2="316.20" y2="636.00" stroke="#000" stroke-width="1"/>
<line x1="312.80" y1="632.60" x2="316.20" y2="632.60" stroke="#000" stroke-width="1"/>
<line x1="326.44" y1="632.60" x2="326.44" y2="634.60" stroke="#000" stroke-width="1"/>
<line x1="314.20" y1="624.29" x2="316.20" y2="624.29" stroke="#000" stroke-width="1"/>
<line x1="332.43" y1="632.60" x2="332.43" y2="634.60" stroke="#000" stroke-width="1"/>
<line x1="314.20" y1="619.43" x2="316.20" y2="619.43" stroke="#000" stroke-width="1"/>
<line x1="336.69" y1="632.60" x2="336.69" y2="634.60" stroke="#000" stroke-width="1"/>
<line x1="314.20" y1="615.98" x2="316.20" y2="615.98" stroke="#000" stroke-width="1"/>
<line x1="339.98" y1="632.60" x2="339.98" y2="634.60" stroke="#000" stroke-width="1"/>
<line x1="314.20" y1="613.31" x2="316.20" y2="613.31" stroke="#000" stroke-width="1"/>
<line x1="342.68" y1="632.60" x2="342.68" y2="634.60" stroke="#000" stroke-width="1"/>
<line x1="314.20" y1="611.12" x2="316.20" y2="611.12" stroke="#000" stroke-width="1"/>
<line x1="344.95" y1="632.60" x2="344.95" y2="634.60" stroke="#000" stroke-width="1"/>
<line x1="314.20" y1="609.28" x2="316.20" y2="609.28" stroke="#000" stroke-width="1"/>
<line x1="346.93" y1="632.60" x2="346.93" y2="634.60" stroke="#000" stroke-width="1"/>
<line x1="314.20" y1="607.67" x2="316.20" y2="607.67" stroke="#000" stroke-width="1"/>
<line x1="348.67" y1="632.60" x2="348.67" y2="634.60" stroke="#000" stroke-width="1"/>
<line x1="314.20" y1="606.26" x2="316.20" y2="606.26" stroke="#000" stroke-width="1"/>
<line x1="350.23" y1="632.60" x2="350.23" y2="636.00" stroke="#000" stroke-width="1"/>
<line x1="312.80" y1="605.00" x2="316.20" y2="605.00" stroke="#000" stroke-width="1"/>
<line x1="360.47" y1="632.60" x2="360.47" y2="634.60" stroke="#000" stroke-width="1"/>
<line x1="314.20" y1="596.69" x2="316.20" y2="596.69" stroke="#000" stroke-width="1"/>
<line x1="366.46" y1="632.60" x2="366.46" y2="634.60" stroke="#000" stroke-width="1"/>
<line x1="314.20" y1="591.83" x2="316.20" y2="591.83" stroke="#000" stroke-width="1"/>
<line x1="370.71" y1="632.60" x2="370.71" y2="634.60" stroke="#000" stroke-width="1"/>
<line x1="314.20" y1="588.38" x2="316.20" y2="588.38" stroke="#000" stroke-width="1"/>
<line x1="374.01" y1="632.60" x2="374.01" y2="634.60" stroke="#000" stroke-width="1"/>
<line x1="314.20" y1="585.71" x2="316.20" y2="585.71" stroke="#000" stroke-width="1"/>
<line x1="376.70" y1="632.60" x2="376.70" y2="634.60" stroke="#000" stroke-width="1"/>
<line x1="314.20" y1="583.52" x2="316.20" y2="583.52" stroke="#000" stroke-width="1"/>
<line x1="378.98" y1="632.60" x2="378.98" y2="634.60" stroke="#000" stroke-width="1"/>
<line x1="314.20" y1="581.68" x2="316.20" y2="581.68" stroke="#000" stroke-width="1"/>
<line x1="380.95" y1="632.60" x2="380.95" y2="634.60" stroke="#000" stroke-width="1"/>
<line x1="314.20" y1="580.07" x2="316.20" y2="580.07" stroke="#000" stroke-width="1"/>
<line x1="382.69" y1="632.60" x2="382.69" y2="634.60" stroke="#000" stroke-width="1"/>
<line x1="314.20" y1="578.66" x2="316.20" y2="578.66" stroke="#000" stroke-width="1"/>
<line x1="384.25" y1="632.60" x2="384.25" y2="636.00" stroke="#000" stroke-width="1"/>
<line x1="312.80" y1="577.40" x2="316.20" y2="577.40" stroke="#000" stroke-width="1"/>
<line x1="394.49" y1="632.60" x2="394.49" y2="634.60" stroke="#000" stroke-width="1"/>
<line x1="314.20" y1="569.09" x2="316.20" y2="569.09" stroke="#000" stroke-width="1"/>
<line x1="400.48" y1="632.60" x2="400.48" y2="634.60" stroke="#000" stroke-width="1"/>
<line x1="314.20" y1="564.23" x2="316.20" y2="564.23" stroke="#000" stroke-width="1"/>
<line x1="404.74" y1="632.60" x2="404.74" y2="634.60" stroke="#000" stroke-width="1"/>
<line x1="314.20" y1="560.78" x2="316.20" y2="560.78" stroke="#000" stroke-width="1"/>
<line x1="408.03" y1="632.60" x2="408.03" y2="634.60" stroke="#000" stroke-width="1"/>
<line x1="314.20" y1="558.11" x2="316.20" y2="558.11" stroke="#000" stroke-width="1"/>
<line x1="410.73" y1="632.60" x2="410.73" y2="634.60" stroke="#000" stroke-width="1"/>
<line x1="314.20" y1="555.92" x2="316.20" y2="555.92" stroke="#000" stroke-width="1"/>
<line x1="413.00" y1="632.60" x2="413.00" y2="634.60" stroke="#000" stroke-width="1"/>
<line x1="314.20" y1="554.08" x2="316.20" y2="554.08" stroke="#000" stroke-width="1"/>
<line x1="414.98" y1="632.60" x2="414.98" y2="634.60" stroke="#000" stroke-width="1"/>
<line x1="314.20" y1="552.47" x2="316.20" y2="552.47" stroke="#000" stroke-width="1"/>
<line x1="416.72" y1="632.60" x2="416.72" y2="634.60" stroke="#000" stroke-width="1"/>
<line x1="314.20" y1="551.06" x2="316.20" y2="551.06" stroke="#000" stroke-width="1"/>
<line x1="418.27" y1="632.60" x2="418.27" y2="636.00" stroke="#000" stroke-width="1"/>
<line x1="312.80" y1="549.80" x2="316.20" y2="549.80" stroke="#000" stroke-width="1"/>
<line x1="428.52" y1="632.60" x2="428.52" y2="634.60" stroke="#000" stroke-width="1"/>
<line x1="314.20" y1="541.49" x2="316.20" y2="541.49" stroke="#000" stroke-width="1"/>
<line x1="434.51" y1="632.60" x2="434.51" y2="634.60" stroke="#000" stroke-width="1"/>
<line x1="314.20" y1="536.63" x2="316.20" y2="536.63" stroke="#000" stroke-width="1"/>
<line x1="438.76" y1="632.60" x2="438.76" y2="634.60" stroke="#000" stroke-width="1"/>
<line x1="314.20" y1="533.18" x2="316.20" y2="533.18" stroke="#000" stroke-width="1"/>
<line x1="442.06" y1="632.60" x2="442.06" y2="634.60" stroke="#000" stroke-width="1"/>
<line x1="314.20" y1="530.51" x2="316.20" y2="530.51" stroke="#000" stroke-width="1"/>
<line x1="444.75" y1="632.60" x2="444.75" y2="634.60" stroke="#000" stroke-width="1"/>
<line x1="314.20" y1="528.32" x2="316.20" y2="528.32" stroke="#000" stroke-width="1"/>
<line x1="447.03" y1="632.60" x2="447.03" y2="634.60" stroke="#000" stroke-width="1"/>
<line x1="314.20" y1="526.48" x2="316.20" y2="526.48" stroke="#000" stroke-width="1"/>
<line x1="449.00" y1="632.60" x2="449.00" y2="634.60" stroke="#000" stroke-width="1"/>
<line x1="314.20" y1="524.87" x2="316.20" y2="524.87" stroke="#000" stroke-width="1"/>
<line x1="450.74" y1="632.60" x2="450.74" y2="634.60" stroke="#000" stroke-width="1"/>
<line x1="314.20" y1="523.46" x2="316.20" y2="523.46" stroke="#000" stroke-width="1"/>
<line x1="452.30" y1="632.60" x2="452.30" y2="636.00" stroke="#000" stroke-width="1"/>
<line x1="312.80" y1="522.20" x2="316.20" y2="522.20" stroke="#000" stroke-width="1"/>
<text x="367.50" y="533.20" font-size="12" textLength="82.8" lengthAdjust="spacingAndGlyphs" stroke-width="0.15">0.09% of CD8+</text>
<rect x="165.20" y="647.30" width="136.30" height="110.50" fill="none" stroke="#000" stroke-width="1"/>
<line x1="214.50" y1="647.30" x2="214.50" y2="757.80" stroke="#000" stroke-width="1"/>
<line x1="165.20" y1="703.80" x2="301.50" y2="703.80" stroke="#000" stroke-width="1"/>
<line x1="165.20" y1="757.80" x2="165.20" y2="761.20" stroke="#000" stroke-width="1"/>
<line x1="161.80" y1="757.80" x2="165.20" y2="757.80" stroke="#000" stroke-width="1"/>
<line x1="175.46" y1="757.80" x2="175.46" y2="759.80" stroke="#000" stroke-width="1"/>
<line x1="163.20" y1="749.48" x2="165.20" y2="749.48" stroke="#000" stroke-width="1"/>
<line x1="181.46" y1="757.80" x2="181.46" y2="759.80" stroke="#000" stroke-width="1"/>
<line x1="163.20" y1="744.62" x2="165.20" y2="744.62" stroke="#000" stroke-width="1"/>
<line x1="185.72" y1="757.80" x2="185.72" y2="759.80" stroke="#000" stroke-width="1"/>
<line x1="163.20" y1="741.17" x2="165.20" y2="741.17" stroke="#000" stroke-width="1"/>
<line x1="189.02" y1="757.80" x2="189.02" y2="759.80" stroke="#000" stroke-width="1"/>
<line x1="163.20" y1="738.49" x2="165.20" y2="738.49" stroke="#000" stroke-width="1"/>
<line x1="191.72" y1="757.80" x2="191.72" y2="759.80" stroke="#000" stroke-width="1"/>
<line x1="163.20" y1="736.30" x2="165.20" y2="736.30" stroke="#000" stroke-width="1"/>
<line x1="194.00" y1="757.80" x2="194.00" y2="759.80" stroke="#000" stroke-width="1"/>
<line x1="163.20" y1="734.45" x2="165.20" y2="734.45" stroke="#000" stroke-width="1"/>
<line x1="195.97" y1="757.80" x2="195.97" y2="759.80" stroke="#000" stroke-width="1"/>
<line x1="163.20" y1="732.85" x2="165.20" y2="732.85" stroke="#000" stroke-width="1"/>
<line x1="197.72" y1="757.80" x2="197.72" y2="759.80" stroke="#000" stroke-width="1"/>
<line x1="163.20" y1="731.44" x2="165.20" y2="731.44" stroke="#000" stroke-width="1"/>
<line x1="199.27" y1="757.80" x2="199.27" y2="761.20" stroke="#000" stroke-width="1"/>
<line x1="161.80" y1="730.17" x2="165.20" y2="730.17" stroke="#000" stroke-width="1"/>
<line x1="209.53" y1="757.80" x2="209.53" y2="759.80" stroke="#000" stroke-width="1"/>
<line x1="163.20" y1="721.86" x2="165.20" y2="721.86" stroke="#000" stroke-width="1"/>
<line x1="215.53" y1="757.80" x2="215.53" y2="759.80" stroke="#000" stroke-width="1"/>
<line x1="163.20" y1="716.99" x2="165.20" y2="716.99" stroke="#000" stroke-width="1"/>
<line x1="219.79" y1="757.80" x2="219.79" y2="759.80" stroke="#000" stroke-width="1"/>
<line x1="163.20" y1="713.54" x2="165.20" y2="713.54" stroke="#000" stroke-width="1"/>
<line x1="223.09" y1="757.80" x2="223.09" y2="759.80" stroke="#000" stroke-width="1"/>
<line x1="163.20" y1="710.87" x2="165.20" y2="710.87" stroke="#000" stroke-width="1"/>
<line x1="225.79" y1="757.80" x2="225.79" y2="759.80" stroke="#000" stroke-width="1"/>
<line x1="163.20" y1="708.68" x2="165.20" y2="708.68" stroke="#000" stroke-width="1"/>
<line x1="228.07" y1="757.80" x2="228.07" y2="759.80" stroke="#000" stroke-width="1"/>
<line x1="163.20" y1="706.83" x2="165.20" y2="706.83" stroke="#000" stroke-width="1"/>
<line x1="230.05" y1="757.80" x2="230.05" y2="759.80" stroke="#000" stroke-width="1"/>
<line x1="163.20" y1="705.23" x2="165.20" y2="705.23" stroke="#000" stroke-width="1"/>
<line x1="231.79" y1="757.80" x2="231.79" y2="759.80" stroke="#000" stroke-width="1"/>
<line x1="163.20" y1="703.81" x2="165.20" y2="703.81" stroke="#000" stroke-width="1"/>
<line x1="233.35" y1="757.80" x2="233.35" y2="761.20" stroke="#000" stroke-width="1"/>
<line x1="161.80" y1="702.55" x2="165.20" y2="702.55" stroke="#000" stroke-width="1"/>
<line x1="243.61" y1="757.80" x2="243.61" y2="759.80" stroke="#000" stroke-width="1"/>
<line x1="163.20" y1="694.23" x2="165.20" y2="694.23" stroke="#000" stroke-width="1"/>
<line x1="249.61" y1="757.80" x2="249.61" y2="759.80" stroke="#000" stroke-width="1"/>
<line x1="163.20" y1="689.37" x2="165.20" y2="689.37" stroke="#000" stroke-width="1"/>
<line x1="253.87" y1="757.80" x2="253.87" y2="759.80" stroke="#000" stroke-width="1"/>
<line x1="163.20" y1="685.92" x2="165.20" y2="685.92" stroke="#000" stroke-width="1"/>
<line x1="257.17" y1="757.80" x2="257.17" y2="759.80" stroke="#000" stroke-width="1"/>
<line x1="163.20" y1="683.24" x2="165.20" y2="683.24" stroke="#000" stroke-width="1"/>
<line x1="259.87" y1="757.80" x2="259.87" y2="759.80" stroke="#000" stroke-width="1"/>
<line x1="163.20" y1="681.05" x2="165.20" y2="681.05" stroke="#000" stroke-width="1"/>
<line x1="262.15" y1="757.80" x2="262.15" y2="759.80" stroke="#000" stroke-width="1"/>
<line x1="163.20" y1="679.20" x2="165.20" y2="679.20" stroke="#000" stroke-width="1"/>
<line x1="264.12" y1="757.80" x2="264.12" y2="759.80" stroke="#000" stroke-width="1"/>
<line x1="163.20" y1="677.60" x2="165.20" y2="677.60" stroke="#000" stroke-width="1"/>
<line x1="265.87" y1="757.80" x2="265.87" y2="759.80" stroke="#000" stroke-width="1"/>
<line x1="163.20" y1="676.19" x2="165.20" y2="676.19" stroke="#000" stroke-width="1"/>
<line x1="267.43" y1="757.80" x2="267.43" y2="761.20" stroke="#000" stroke-width="1"/>
<line x1="161.80" y1="674.92" x2="165.20" y2="674.92" stroke="#000" stroke-width="1"/>
<line x1="277.68" y1="757.80" x2="277.68" y2="759.80" stroke="#000" stroke-width="1"/>
<line x1="163.20" y1="666.61" x2="165.20" y2="666.61" stroke="#000" stroke-width="1"/>
<line x1="283.68" y1="757.80" x2="283.68" y2="759.80" stroke="#000" stroke-width="1"/>
<line x1="163.20" y1="661.74" x2="165.20" y2="661.74" stroke="#000" stroke-width="1"/>
<line x1="287.94" y1="757.80" x2="287.94" y2="759.80" stroke="#000" stroke-width="1"/>
<line x1="163.20" y1="658.29" x2="165.20" y2="658.29" stroke="#000" stroke-width="1"/>
<line x1="291.24" y1="757.80" x2="291.24" y2="759.80" stroke="#000" stroke-width="1"/>
<line x1="163.20" y1="655.62" x2="165.20" y2="655.62" stroke="#000" stroke-width="1"/>
<line x1="293.94" y1="757.80" x2="293.94" y2="759.80" stroke="#000" stroke-width="1"/>
<line x1="163.20" y1="653.43" x2="165.20" y2="653.43" stroke="#000" stroke-width="1"/>
<line x1="296.22" y1="757.80" x2="296.22" y2="759.80" stroke="#000" stroke-width="1"/>
<line x1="163.20" y1="651.58" x2="165.20" y2="651.58" stroke="#000" stroke-width="1"/>
<line x1="298.20" y1="757.80" x2="298.20" y2="759.80" stroke="#000" stroke-width="1"/>
<line x1="163.20" y1="649.98" x2="165.20" y2="649.98" stroke="#000" stroke-width="1"/>
<line x1="299.94" y1="757.80" x2="299.94" y2="759.80" stroke="#000" stroke-width="1"/>
<line x1="163.20" y1="648.56" x2="165.20" y2="648.56" stroke="#000" stroke-width="1"/>
<line x1="301.50" y1="757.80" x2="301.50" y2="761.20" stroke="#000" stroke-width="1"/>
<line x1="161.80" y1="647.30" x2="165.20" y2="647.30" stroke="#000" stroke-width="1"/>
<text x="217.30" y="658.30" font-size="12" textLength="82.8" lengthAdjust="spacingAndGlyphs" stroke-width="0.15">0.00% of CD8+</text>
<text x="158.40" y="763.70" font-size="8.6" textLength="7.6" lengthAdjust="spacingAndGlyphs" transform="rotate(-90 158.40 763.70)" font-weight="normal" stroke-width="0.3">10</text>
<text x="152.80" y="755.00" font-size="7.8" textLength="4.6" lengthAdjust="spacingAndGlyphs" transform="rotate(-90 152.80 755.00)" font-weight="normal" stroke-width="0.25">0</text>
<text x="158.40" y="736.07" font-size="8.6" textLength="7.6" lengthAdjust="spacingAndGlyphs" transform="rotate(-90 158.40 736.07)" font-weight="normal" stroke-width="0.3">10</text>
<text x="152.80" y="727.38" font-size="7.8" textLength="4.6" lengthAdjust="spacingAndGlyphs" transform="rotate(-90 152.80 727.38)" font-weight="normal" stroke-width="0.25">1</text>
<text x="158.40" y="708.45" font-size="8.6" textLength="7.6" lengthAdjust="spacingAndGlyphs" transform="rotate(-90 158.40 708.45)" font-weight="normal" stroke-width="0.3">10</text>
<text x="152.80" y="699.75" font-size="7.8" textLength="4.6" lengthAdjust="spacingAndGlyphs" transform="rotate(-90 152.80 699.75)" font-weight="normal" stroke-width="0.25">2</text>
<text x="158.40" y="680.82" font-size="8.6" textLength="7.6" lengthAdjust="spacingAndGlyphs" transform="rotate(-90 158.40 680.82)" font-weight="normal" stroke-width="0.3">10</text>
<text x="152.80" y="672.12" font-size="7.8" textLength="4.6" lengthAdjust="spacingAndGlyphs" transform="rotate(-90 152.80 672.12)" font-weight="normal" stroke-width="0.25">3</text>
<text x="158.40" y="653.20" font-size="8.6" textLength="7.6" lengthAdjust="spacingAndGlyphs" transform="rotate(-90 158.40 653.20)" font-weight="normal" stroke-width="0.3">10</text>
<text x="152.80" y="644.50" font-size="7.8" textLength="4.6" lengthAdjust="spacingAndGlyphs" transform="rotate(-90 152.80 644.50)" font-weight="normal" stroke-width="0.25">4</text>
<text x="160.70" y="771.60" font-size="9.5" textLength="7.0" lengthAdjust="spacingAndGlyphs" font-weight="normal" stroke-width="0.25">10</text>
<text x="168.20" y="767.30" font-size="7.8" textLength="3.9" lengthAdjust="spacingAndGlyphs" font-weight="normal" stroke-width="0.2">0</text>
<text x="196.77" y="771.60" font-size="9.5" textLength="7.0" lengthAdjust="spacingAndGlyphs" font-weight="normal" stroke-width="0.25">10</text>
<text x="204.27" y="767.30" font-size="7.8" textLength="3.9" lengthAdjust="spacingAndGlyphs" font-weight="normal" stroke-width="0.2">1</text>
<text x="231.65" y="771.60" font-size="9.5" textLength="7.0" lengthAdjust="spacingAndGlyphs" font-weight="normal" stroke-width="0.25">10</text>
<text x="239.15" y="767.30" font-size="7.8" textLength="3.9" lengthAdjust="spacingAndGlyphs" font-weight="normal" stroke-width="0.2">2</text>
<text x="264.32" y="771.60" font-size="9.5" textLength="7.0" lengthAdjust="spacingAndGlyphs" font-weight="normal" stroke-width="0.25">10</text>
<text x="271.82" y="767.30" font-size="7.8" textLength="3.9" lengthAdjust="spacingAndGlyphs" font-weight="normal" stroke-width="0.2">3</text>
<text x="296.60" y="771.60" font-size="9.5" textLength="7.0" lengthAdjust="spacingAndGlyphs" font-weight="normal" stroke-width="0.25">10</text>
<text x="304.10" y="767.30" font-size="7.8" textLength="3.9" lengthAdjust="spacingAndGlyphs" font-weight="normal" stroke-width="0.2">4</text>
<rect x="316.30" y="647.40" width="135.70" height="110.20" fill="none" stroke="#000" stroke-width="1"/>
<line x1="364.80" y1="647.40" x2="364.80" y2="757.60" stroke="#000" stroke-width="1"/>
<line x1="316.30" y1="703.70" x2="452.00" y2="703.70" stroke="#000" stroke-width="1"/>
<line x1="316.30" y1="757.60" x2="316.30" y2="761.00" stroke="#000" stroke-width="1"/>
<line x1="312.90" y1="757.60" x2="316.30" y2="757.60" stroke="#000" stroke-width="1"/>
<line x1="326.51" y1="757.60" x2="326.51" y2="759.60" stroke="#000" stroke-width="1"/>
<line x1="314.30" y1="749.31" x2="316.30" y2="749.31" stroke="#000" stroke-width="1"/>
<line x1="332.49" y1="757.60" x2="332.49" y2="759.60" stroke="#000" stroke-width="1"/>
<line x1="314.30" y1="744.46" x2="316.30" y2="744.46" stroke="#000" stroke-width="1"/>
<line x1="336.72" y1="757.60" x2="336.72" y2="759.60" stroke="#000" stroke-width="1"/>
<line x1="314.30" y1="741.01" x2="316.30" y2="741.01" stroke="#000" stroke-width="1"/>
<line x1="340.01" y1="757.60" x2="340.01" y2="759.60" stroke="#000" stroke-width="1"/>
<line x1="314.30" y1="738.34" x2="316.30" y2="738.34" stroke="#000" stroke-width="1"/>
<line x1="342.70" y1="757.60" x2="342.70" y2="759.60" stroke="#000" stroke-width="1"/>
<line x1="314.30" y1="736.16" x2="316.30" y2="736.16" stroke="#000" stroke-width="1"/>
<line x1="344.97" y1="757.60" x2="344.97" y2="759.60" stroke="#000" stroke-width="1"/>
<line x1="314.30" y1="734.32" x2="316.30" y2="734.32" stroke="#000" stroke-width="1"/>
<line x1="346.94" y1="757.60" x2="346.94" y2="759.60" stroke="#000" stroke-width="1"/>
<line x1="314.30" y1="732.72" x2="316.30" y2="732.72" stroke="#000" stroke-width="1"/>
<line x1="348.67" y1="757.60" x2="348.67" y2="759.60" stroke="#000" stroke-width="1"/>
<line x1="314.30" y1="731.31" x2="316.30" y2="731.31" stroke="#000" stroke-width="1"/>
<line x1="350.23" y1="757.60" x2="350.23" y2="761.00" stroke="#000" stroke-width="1"/>
<line x1="312.90" y1="730.05" x2="316.30" y2="730.05" stroke="#000" stroke-width="1"/>
<line x1="360.44" y1="757.60" x2="360.44" y2="759.60" stroke="#000" stroke-width="1"/>
<line x1="314.30" y1="721.76" x2="316.30" y2="721.76" stroke="#000" stroke-width="1"/>
<line x1="366.41" y1="757.60" x2="366.41" y2="759.60" stroke="#000" stroke-width="1"/>
<line x1="314.30" y1="716.91" x2="316.30" y2="716.91" stroke="#000" stroke-width="1"/>
<line x1="370.65" y1="757.60" x2="370.65" y2="759.60" stroke="#000" stroke-width="1"/>
<line x1="314.30" y1="713.46" x2="316.30" y2="713.46" stroke="#000" stroke-width="1"/>
<line x1="373.94" y1="757.60" x2="373.94" y2="759.60" stroke="#000" stroke-width="1"/>
<line x1="314.30" y1="710.79" x2="316.30" y2="710.79" stroke="#000" stroke-width="1"/>
<line x1="376.62" y1="757.60" x2="376.62" y2="759.60" stroke="#000" stroke-width="1"/>
<line x1="314.30" y1="708.61" x2="316.30" y2="708.61" stroke="#000" stroke-width="1"/>
<line x1="378.89" y1="757.60" x2="378.89" y2="759.60" stroke="#000" stroke-width="1"/>
<line x1="314.30" y1="706.77" x2="316.30" y2="706.77" stroke="#000" stroke-width="1"/>
<line x1="380.86" y1="757.60" x2="380.86" y2="759.60" stroke="#000" stroke-width="1"/>
<line x1="314.30" y1="705.17" x2="316.30" y2="705.17" stroke="#000" stroke-width="1"/>
<line x1="382.60" y1="757.60" x2="382.60" y2="759.60" stroke="#000" stroke-width="1"/>
<line x1="314.30" y1="703.76" x2="316.30" y2="703.76" stroke="#000" stroke-width="1"/>
<line x1="384.15" y1="757.60" x2="384.15" y2="761.00" stroke="#000" stroke-width="1"/>
<line x1="312.90" y1="702.50" x2="316.30" y2="702.50" stroke="#000" stroke-width="1"/>
<line x1="394.36" y1="757.60" x2="394.36" y2="759.60" stroke="#000" stroke-width="1"/>
<line x1="314.30" y1="694.21" x2="316.30" y2="694.21" stroke="#000" stroke-width="1"/>
<line x1="400.34" y1="757.60" x2="400.34" y2="759.60" stroke="#000" stroke-width="1"/>
<line x1="314.30" y1="689.36" x2="316.30" y2="689.36" stroke="#000" stroke-width="1"/>
<line x1="404.57" y1="757.60" x2="404.57" y2="759.60" stroke="#000" stroke-width="1"/>
<line x1="314.30" y1="685.91" x2="316.30" y2="685.91" stroke="#000" stroke-width="1"/>
<line x1="407.86" y1="757.60" x2="407.86" y2="759.60" stroke="#000" stroke-width="1"/>
<line x1="314.30" y1="683.24" x2="316.30" y2="683.24" stroke="#000" stroke-width="1"/>
<line x1="410.55" y1="757.60" x2="410.55" y2="759.60" stroke="#000" stroke-width="1"/>
<line x1="314.30" y1="681.06" x2="316.30" y2="681.06" stroke="#000" stroke-width="1"/>
<line x1="412.82" y1="757.60" x2="412.82" y2="759.60" stroke="#000" stroke-width="1"/>
<line x1="314.30" y1="679.22" x2="316.30" y2="679.22" stroke="#000" stroke-width="1"/>
<line x1="414.79" y1="757.60" x2="414.79" y2="759.60" stroke="#000" stroke-width="1"/>
<line x1="314.30" y1="677.62" x2="316.30" y2="677.62" stroke="#000" stroke-width="1"/>
<line x1="416.52" y1="757.60" x2="416.52" y2="759.60" stroke="#000" stroke-width="1"/>
<line x1="314.30" y1="676.21" x2="316.30" y2="676.21" stroke="#000" stroke-width="1"/>
<line x1="418.07" y1="757.60" x2="418.07" y2="761.00" stroke="#000" stroke-width="1"/>
<line x1="312.90" y1="674.95" x2="316.30" y2="674.95" stroke="#000" stroke-width="1"/>
<line x1="428.29" y1="757.60" x2="428.29" y2="759.60" stroke="#000" stroke-width="1"/>
<line x1="314.30" y1="666.66" x2="316.30" y2="666.66" stroke="#000" stroke-width="1"/>
<line x1="434.26" y1="757.60" x2="434.26" y2="759.60" stroke="#000" stroke-width="1"/>
<line x1="314.30" y1="661.81" x2="316.30" y2="661.81" stroke="#000" stroke-width="1"/>
<line x1="438.50" y1="757.60" x2="438.50" y2="759.60" stroke="#000" stroke-width="1"/>
<line x1="314.30" y1="658.36" x2="316.30" y2="658.36" stroke="#000" stroke-width="1"/>
<line x1="441.79" y1="757.60" x2="441.79" y2="759.60" stroke="#000" stroke-width="1"/>
<line x1="314.30" y1="655.69" x2="316.30" y2="655.69" stroke="#000" stroke-width="1"/>
<line x1="444.47" y1="757.60" x2="444.47" y2="759.60" stroke="#000" stroke-width="1"/>
<line x1="314.30" y1="653.51" x2="316.30" y2="653.51" stroke="#000" stroke-width="1"/>
<line x1="446.74" y1="757.60" x2="446.74" y2="759.60" stroke="#000" stroke-width="1"/>
<line x1="314.30" y1="651.67" x2="316.30" y2="651.67" stroke="#000" stroke-width="1"/>
<line x1="448.71" y1="757.60" x2="448.71" y2="759.60" stroke="#000" stroke-width="1"/>
<line x1="314.30" y1="650.07" x2="316.30" y2="650.07" stroke="#000" stroke-width="1"/>
<line x1="450.45" y1="757.60" x2="450.45" y2="759.60" stroke="#000" stroke-width="1"/>
<line x1="314.30" y1="648.66" x2="316.30" y2="648.66" stroke="#000" stroke-width="1"/>
<line x1="452.00" y1="757.60" x2="452.00" y2="761.00" stroke="#000" stroke-width="1"/>
<line x1="312.90" y1="647.40" x2="316.30" y2="647.40" stroke="#000" stroke-width="1"/>
<text x="367.60" y="658.40" font-size="12" textLength="82.8" lengthAdjust="spacingAndGlyphs" stroke-width="0.15">4.18% of CD8+</text>
<text x="311.80" y="771.60" font-size="9.5" textLength="7.0" lengthAdjust="spacingAndGlyphs" font-weight="normal" stroke-width="0.25">10</text>
<text x="319.30" y="767.30" font-size="7.8" textLength="3.9" lengthAdjust="spacingAndGlyphs" font-weight="normal" stroke-width="0.2">0</text>
<text x="347.73" y="771.60" font-size="9.5" textLength="7.0" lengthAdjust="spacingAndGlyphs" font-weight="normal" stroke-width="0.25">10</text>
<text x="355.23" y="767.30" font-size="7.8" textLength="3.9" lengthAdjust="spacingAndGlyphs" font-weight="normal" stroke-width="0.2">1</text>
<text x="382.45" y="771.60" font-size="9.5" textLength="7.0" lengthAdjust="spacingAndGlyphs" font-weight="normal" stroke-width="0.25">10</text>
<text x="389.95" y="767.30" font-size="7.8" textLength="3.9" lengthAdjust="spacingAndGlyphs" font-weight="normal" stroke-width="0.2">2</text>
<text x="414.97" y="771.60" font-size="9.5" textLength="7.0" lengthAdjust="spacingAndGlyphs" font-weight="normal" stroke-width="0.25">10</text>
<text x="422.47" y="767.30" font-size="7.8" textLength="3.9" lengthAdjust="spacingAndGlyphs" font-weight="normal" stroke-width="0.2">3</text>
<text x="447.10" y="771.60" font-size="9.5" textLength="7.0" lengthAdjust="spacingAndGlyphs" font-weight="normal" stroke-width="0.25">10</text>
<text x="454.60" y="767.30" font-size="7.8" textLength="3.9" lengthAdjust="spacingAndGlyphs" font-weight="normal" stroke-width="0.2">4</text>
<text x="140.40" y="590.60" font-size="11" textLength="21.6" lengthAdjust="spacingAndGlyphs" transform="rotate(-90 140.40 590.60)">CD8</text>
<text x="140.40" y="715.20" font-size="11" textLength="21.6" lengthAdjust="spacingAndGlyphs" transform="rotate(-90 140.40 715.20)">CD8</text>
<text x="177.80" y="781.70" font-size="12" textLength="112.8" lengthAdjust="spacingAndGlyphs">NLV tetramer (pp65)</text>
<text x="326.20" y="781.90" font-size="12" textLength="113.8" lengthAdjust="spacingAndGlyphs">CLG tetramer (EBV)</text>
<text x="87.50" y="690.50" font-size="11.5" text-anchor="middle">control</text>
<text x="87.90" y="702.50" font-size="11.5" text-anchor="middle">mini-LCL-</text>
<text x="87.60" y="714.50" font-size="11.5" text-anchor="middle">stimulated</text>
<text x="87.80" y="726.70" font-size="11.5" text-anchor="middle">T cells</text>
</svg>
</body></html>
